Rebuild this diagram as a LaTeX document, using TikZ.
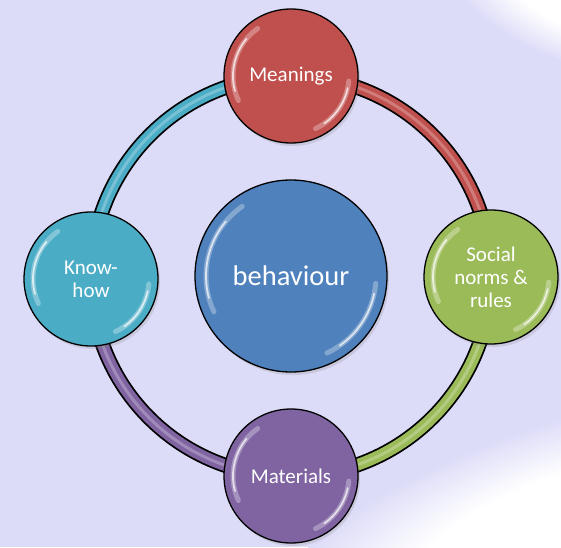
\documentclass[tikz,border=0pt]{standalone}
\usepackage{fontspec}
\setmainfont{Carlito}
\usetikzlibrary{shadows}

\definecolor{bgLilac}{RGB}{221,220,248}
\definecolor{ringRed}{RGB}{192,80,77}
\definecolor{ringGreen}{RGB}{155,187,89}
\definecolor{ringPurple}{RGB}{128,100,162}
\definecolor{ringTeal}{RGB}{75,172,198}
\definecolor{coreBlue}{RGB}{79,129,189}

% soft white glare, flat in the middle
\pgfdeclareradialshading{glare}{\pgfpoint{0bp}{0bp}}{%
  color(0bp)=(white); color(14bp)=(white);
  color(25bp)=(bgLilac); color(50bp)=(bgLilac)}

\pgfdeclarelayer{back}
\pgfsetlayers{back,main}

\begin{document}
\begin{tikzpicture}[x=1pt,y=1pt]
  \tikzset{BubbleStyle/.style = {
    shape         = circle,
    draw          = black,
    fill          = #1,
    line width    = 1.3pt,
    text          = white,
    inner sep     = 0pt,
    outer sep     = 0pt,
    minimum size  = 134pt,
    align         = center,
    font          = \fontsize{21}{23}\selectfont,
    drop shadow   = {opacity=0.22, shadow xshift=2pt, shadow yshift=-3pt}
    }
  }
  \tikzset{CoreStyle/.style = {
    BubbleStyle   = coreBlue,
    minimum size  = 192pt,
    font          = \fontsize{28.5}{30}\selectfont
    }
  }
  \tikzset{RingStyle/.style = {
    line width      = 1.8pt,
    draw            = black,
    double          = #1,
    double distance = 11.5pt
    }
  }
  \tikzset{RingGlare/.style = {
    draw = white, opacity = 0.25, line width = 3pt
    }
  }
  \tikzset{GlossWide/.style = {
    draw = white, opacity = 0.3, line width = 5pt, line cap = round
    }
  }
  \tikzset{GlossThin/.style = {
    draw = white, opacity = 0.7, line width = 1.8pt, line cap = round
    }
  }

  \useasboundingbox (0,0) rectangle (561,547);

  \node[BubbleStyle=ringRed](Meanings) at (291, 471) {Meanings};
  \node[BubbleStyle=ringGreen](Social) at (491, 270) {Social\\norms \&\\rules};
  \node[BubbleStyle=ringPurple](Materials) at (291, 71) {Materials};
  \node[BubbleStyle=ringTeal](KnowHow) at (91, 268) {Know-\\how};
  \node[CoreStyle](Behaviour) at (291, 271) {behaviour};

  % shine on the bubbles
  \foreach \n/\r in {Meanings/58, Social/58, Materials/58, KnowHow/58, Behaviour/85} {
    \draw[GlossWide] ([shift={(125:\r)}]\n.center) arc (125:205:\r);
    \draw[GlossThin] ([shift={(140:\r)}]\n.center) arc (140:195:\r);
    \draw[GlossWide] ([shift={(-5:\r)}]\n.center) arc (-5:-65:\r);
    \draw[GlossThin] ([shift={(-12:\r)}]\n.center) arc (-12:-55:\r);
  }

  \begin{pgfonlayer}{back}
    \fill[bgLilac] (0,0) rectangle (561,547);
    \begin{scope}[transform canvas={rotate around={16:(600,15)}}]
      \shade[shading=glare] (600,15) ellipse (340 and 120);
    \end{scope}
    \begin{scope}[transform canvas={rotate around={-20:(590,560)}}]
      \shade[shading=glare] (590,560) ellipse (160 and 80);
    \end{scope}
    % ring between the outer bubbles
    \foreach \a/\b/\c in {Meanings/Social/ringRed, Social/Materials/ringGreen,
                          Materials/KnowHow/ringPurple, KnowHow/Meanings/ringTeal} {
      \draw[RingStyle=\c] (\a.center) to[bend left=45] (\b.center);
      \draw[RingGlare] (\a.center) to[bend left=45] (\b.center);
    }
  \end{pgfonlayer}

\end{tikzpicture}
\end{document}
